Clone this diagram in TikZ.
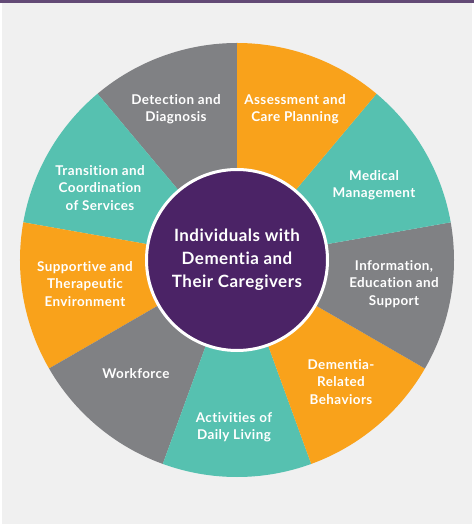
\documentclass[tikz,border=0pt]{standalone}
\usepackage{fontspec}
\setmainfont{Lato}[LetterSpace=3, Ligatures=NoCommon]
\usepackage{tikz}
\pgfdeclarelayer{background}
\pgfdeclarelayer{foreground}
\pgfsetlayers{background,main,foreground}
\definecolor{wheelgray}{HTML}{808184}
\definecolor{wheelorange}{HTML}{F9A21B}
\definecolor{wheelteal}{HTML}{56C1B0}
\definecolor{hubpurple}{HTML}{4B2366}
\definecolor{pagebg}{HTML}{F0F0F0}
\definecolor{barpurple}{HTML}{634A76}
\tikzset{
  label/.style={text=white, align=center, font=\bfseries\fontsize{13.5}{17.5}\selectfont},
  hub/.style={circle, fill=hubpurple, draw=white, line width=3bp, minimum size=181bp,
    text=white, align=center, font=\bfseries\fontsize{17}{23}\selectfont}
}

\begin{document}
\begin{tikzpicture}[x=1bp,y=1bp]
\useasboundingbox (-237,-267) rectangle (237,260);
\begin{pgfonlayer}{background}
\fill[white] (-237,-267) rectangle (237,260);
\fill[pagebg] (-235,-264) rectangle (235,257);
\fill[barpurple] (-237,257) rectangle (237,260);
\end{pgfonlayer}
% the nine sectors, 40 degrees each
\fill[wheelgray] (0,0) -- (90:217) arc[start angle=90, end angle=130, radius=217] -- cycle;
\fill[wheelteal] (0,0) -- (130:217) arc[start angle=130, end angle=170, radius=217] -- cycle;
\fill[wheelorange] (0,0) -- (170:217) arc[start angle=170, end angle=210, radius=217] -- cycle;
\fill[wheelgray] (0,0) -- (210:217) arc[start angle=210, end angle=250, radius=217] -- cycle;
\fill[wheelteal] (0,0) -- (250:217) arc[start angle=250, end angle=290, radius=217] -- cycle;
\fill[wheelorange] (0,0) -- (290:217) arc[start angle=290, end angle=330, radius=217] -- cycle;
\fill[wheelgray] (0,0) -- (330:217) arc[start angle=330, end angle=370, radius=217] -- cycle;
\fill[wheelteal] (0,0) -- (10:217) arc[start angle=10, end angle=50, radius=217] -- cycle;
\fill[wheelorange] (0,0) -- (50:217) arc[start angle=50, end angle=90, radius=217] -- cycle;
% sector labels
\node[label] (detection) at (-61,151) {Detection and\\Diagnosis};
\node[label] (assessment) at (58,151) {Assessment and\\Care Planning};
\node[label] (medical) at (137,75) {Medical\\Management};
\node[label] (information) at (157,-24) {Information,\\Education and\\Support};
\node[label] (behaviors) at (104,-122) {Dementia-\\Related\\Behaviors};
\node[label] (activities) at (-3,-167) {Activities of\\Daily Living};
\node[label] (workforce) at (-101,-114) {Workforce};
\node[label] (supportive) at (-152,-24) {Supportive and\\Therapeutic\\Environment};
\node[label] (transition) at (-137,72) {Transition and\\Coordination\\of Services};
\begin{pgfonlayer}{foreground}
\node[hub] (individuals) at (0,0) {Individuals with\\Dementia and\\Their Caregivers};
\end{pgfonlayer}
\end{tikzpicture}
\end{document}
